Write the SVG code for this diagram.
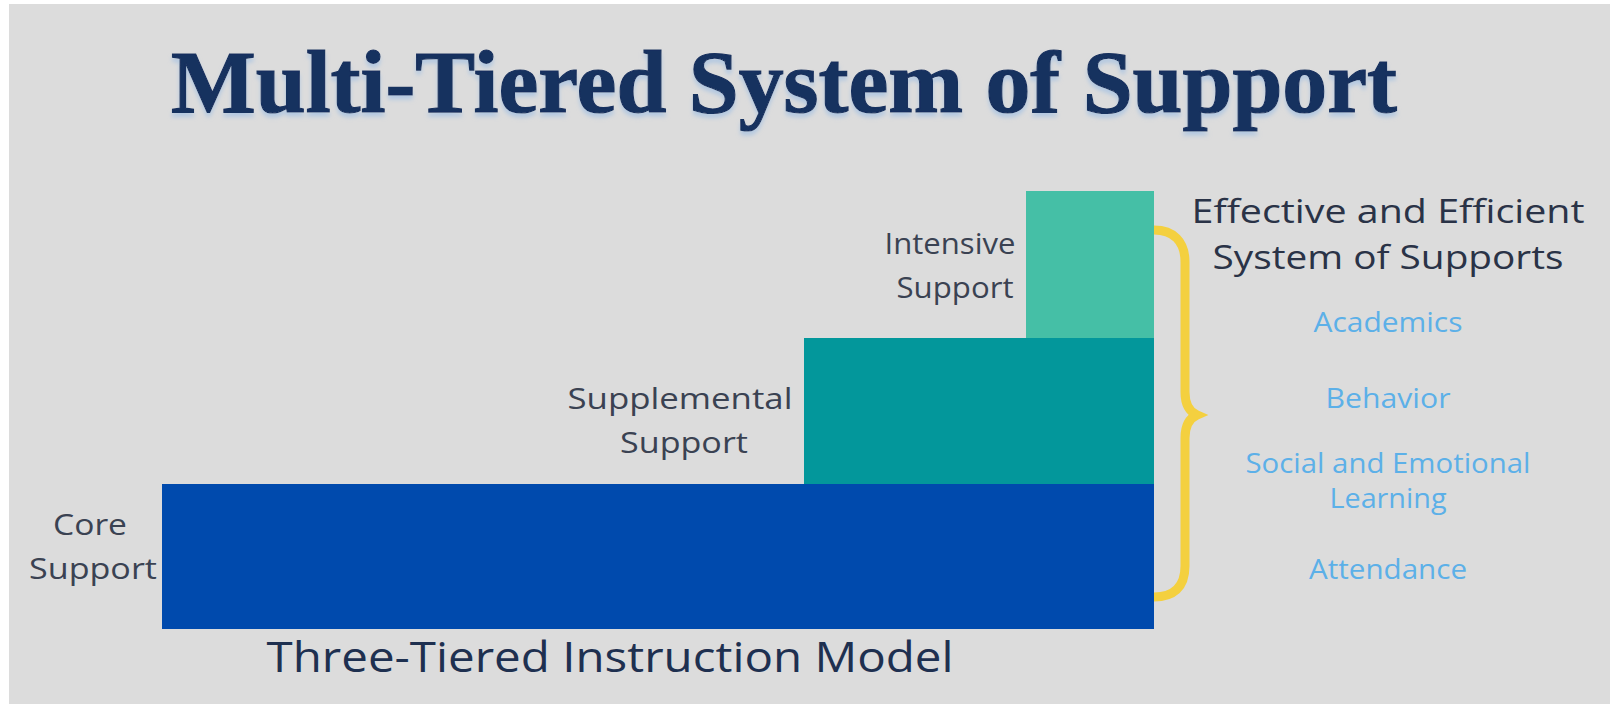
<svg xmlns="http://www.w3.org/2000/svg" width="1616" height="704" viewBox="0 0 1616 704">
<style>
.lbl{font-family:"Open Sans","Noto Sans",sans-serif;font-size:30px;fill:#3a4252;text-anchor:middle}
.hd{font-family:"Open Sans","Noto Sans",sans-serif;font-size:32px;fill:#2a3347;text-anchor:middle}
.item{font-family:"Open Sans","Noto Sans",sans-serif;font-size:27px;fill:#5cb0e8;text-anchor:middle}
.title{font-family:"Liberation Serif","DejaVu Serif",serif;font-weight:bold;font-size:88px;fill:#15305e}
</style>
<defs>
<filter id="shadow" x="-5%" y="-20%" width="110%" height="150%">
<feDropShadow dx="0" dy="4" stdDeviation="2" flood-color="#a8c3e2" flood-opacity="0.8"/>
</filter>
</defs>
<rect x="0" y="0" width="1616" height="704" fill="#ffffff"/>
<rect x="9" y="4" width="1601" height="700" fill="#dcdcdc"/>
<g id="title">
<text class="title" x="171" y="112" textLength="1226" lengthAdjust="spacingAndGlyphs" filter="url(#shadow)" stroke="#15305e" stroke-width="1.2">Multi-Tiered System of Support</text>
</g>
<g id="core">
<rect x="162" y="484" width="992" height="145" fill="#004aad"/>
<text class="lbl" x="90" y="535" textLength="74" lengthAdjust="spacingAndGlyphs">Core</text>
<text class="lbl" x="93" y="579" textLength="128" lengthAdjust="spacingAndGlyphs">Support</text>
</g>
<g id="supplemental">
<rect x="804" y="338" width="350" height="146" fill="#03979b"/>
<text class="lbl" x="680" y="409" textLength="225" lengthAdjust="spacingAndGlyphs">Supplemental</text>
<text class="lbl" x="684" y="453" textLength="128" lengthAdjust="spacingAndGlyphs">Support</text>
</g>
<g id="intensive">
<rect x="1026" y="191" width="128" height="147" fill="#45bfa6"/>
<text class="lbl" x="950" y="254" textLength="131" lengthAdjust="spacingAndGlyphs">Intensive</text>
<text class="lbl" x="955" y="298" textLength="117" lengthAdjust="spacingAndGlyphs">Support</text>
</g>
<g id="model-label">
<text class="hd" x="610" y="672" style="font-size:42px;fill:#1e3050" textLength="687" lengthAdjust="spacingAndGlyphs">Three-Tiered Instruction Model</text>
</g>
<g id="connectors">
<path d="M1154,230 C1173,230 1185,241 1185,262 L1185,392 C1185,405 1190,412 1197,415 C1190,418 1185,425 1185,438 L1185,566 C1185,588 1173,597 1154,597" fill="none" stroke="#f4d03f" stroke-width="9"/>
</g>
<g id="systems">
<text class="hd" x="1388" y="223" textLength="393" lengthAdjust="spacingAndGlyphs">Effective and Efficient</text>
<text class="hd" x="1388" y="269" textLength="351" lengthAdjust="spacingAndGlyphs">System of Supports</text>
<text class="item" x="1388" y="332" textLength="149" lengthAdjust="spacingAndGlyphs">Academics</text>
<text class="item" x="1388" y="408" textLength="125" lengthAdjust="spacingAndGlyphs">Behavior</text>
<text class="item" x="1388" y="473" textLength="285" lengthAdjust="spacingAndGlyphs">Social and Emotional</text>
<text class="item" x="1388" y="508" textLength="117" lengthAdjust="spacingAndGlyphs">Learning</text>
<text class="item" x="1388" y="579" textLength="158" lengthAdjust="spacingAndGlyphs">Attendance</text>
</g>
</svg>
